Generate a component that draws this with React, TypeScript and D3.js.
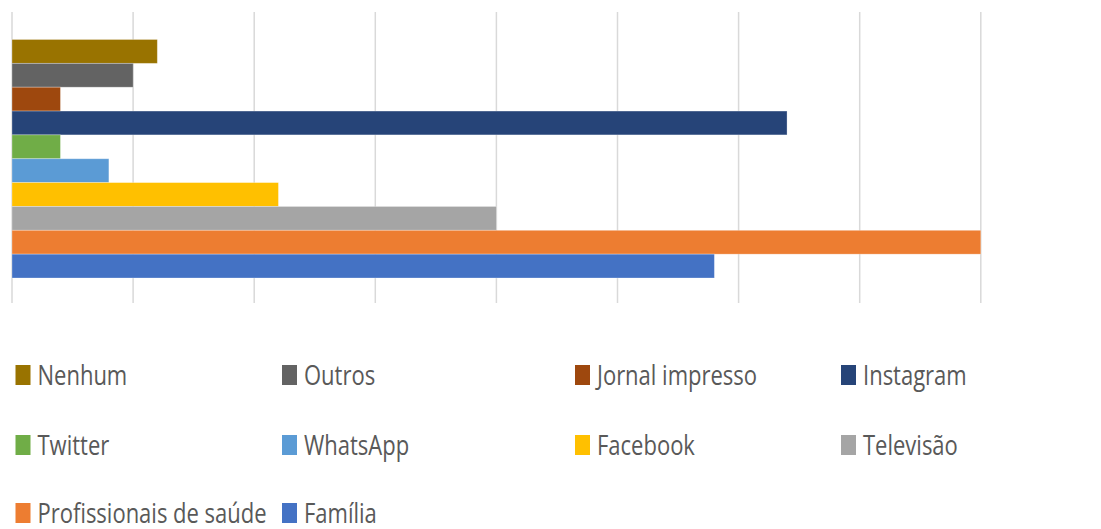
import React from "react";
import * as d3 from "d3";

const series = [
  "Nenhum",
  "Outros",
  "Jornal impresso",
  "Instagram",
  "Twitter",
  "WhatsApp",
  "Facebook",
  "Televisão",
  "Profissionais de saúde",
  "Família",
];
const values = [1.2, 1.0, 0.4, 6.4, 0.4, 0.8, 2.2, 4.0, 8.0, 5.8];
const colors = [
  "#997300",
  "#636363",
  "#9E480E",
  "#264478",
  "#70AD47",
  "#5B9BD5",
  "#FFC000",
  "#A5A5A5",
  "#ED7D31",
  "#4472C4",
];
const gridTicks = [0, 1, 2, 3, 4, 5, 6, 7, 8];

const W = 1101;
const H = 529;

export default function App() {
  const x = d3.scaleLinear().domain([0, 9]).range([12, 12 + 9 * 121.1]);
  const y = d3.scaleBand<string>().domain(series).range([39.5, 278]).paddingInner(0);

  const legendColsMarker = [15.5, 282, 575, 841];
  const legendRowsCenter = [375, 445, 513];

  return (
    <svg
      width={W}
      height={H}
      style={{ position: "absolute", left: 0, top: 0, background: "#fff" }}
      fontFamily="'Open Sans', 'Liberation Sans', sans-serif"
    >
      <rect x={0} y={0} width={W} height={H} fill="#fff" />
      {gridTicks.map((t) => (
        <line
          key={t}
          x1={x(t)}
          x2={x(t)}
          y1={12}
          y2={303}
          stroke="#d9d9d9"
          strokeWidth={1.5}
        />
      ))}
      {series.map((s, i) => (
        <rect
          key={s}
          x={x(0)}
          y={y(s)!}
          width={x(values[i]) - x(0)}
          height={y.bandwidth()}
          fill={colors[i]}
          stroke="#ffffff"
          strokeOpacity={0.35}
          strokeWidth={0.8}
        />
      ))}
      {series.map((s, i) => {
        const col = i % 4;
        const row = Math.floor(i / 4);
        const mx = legendColsMarker[col];
        const cy = legendRowsCenter[row];
        return (
          <g key={"lg" + s}>
            <rect x={mx} y={cy - 10} width={15} height={20} fill={colors[i]} />
            <text
              transform={`translate(${mx + 22},${cy + 9.5}) scale(0.8,1)`}
              fontSize={27.5}
              fill="#595959"
            >
              {s}
            </text>
          </g>
        );
      })}
    </svg>
  );
}
